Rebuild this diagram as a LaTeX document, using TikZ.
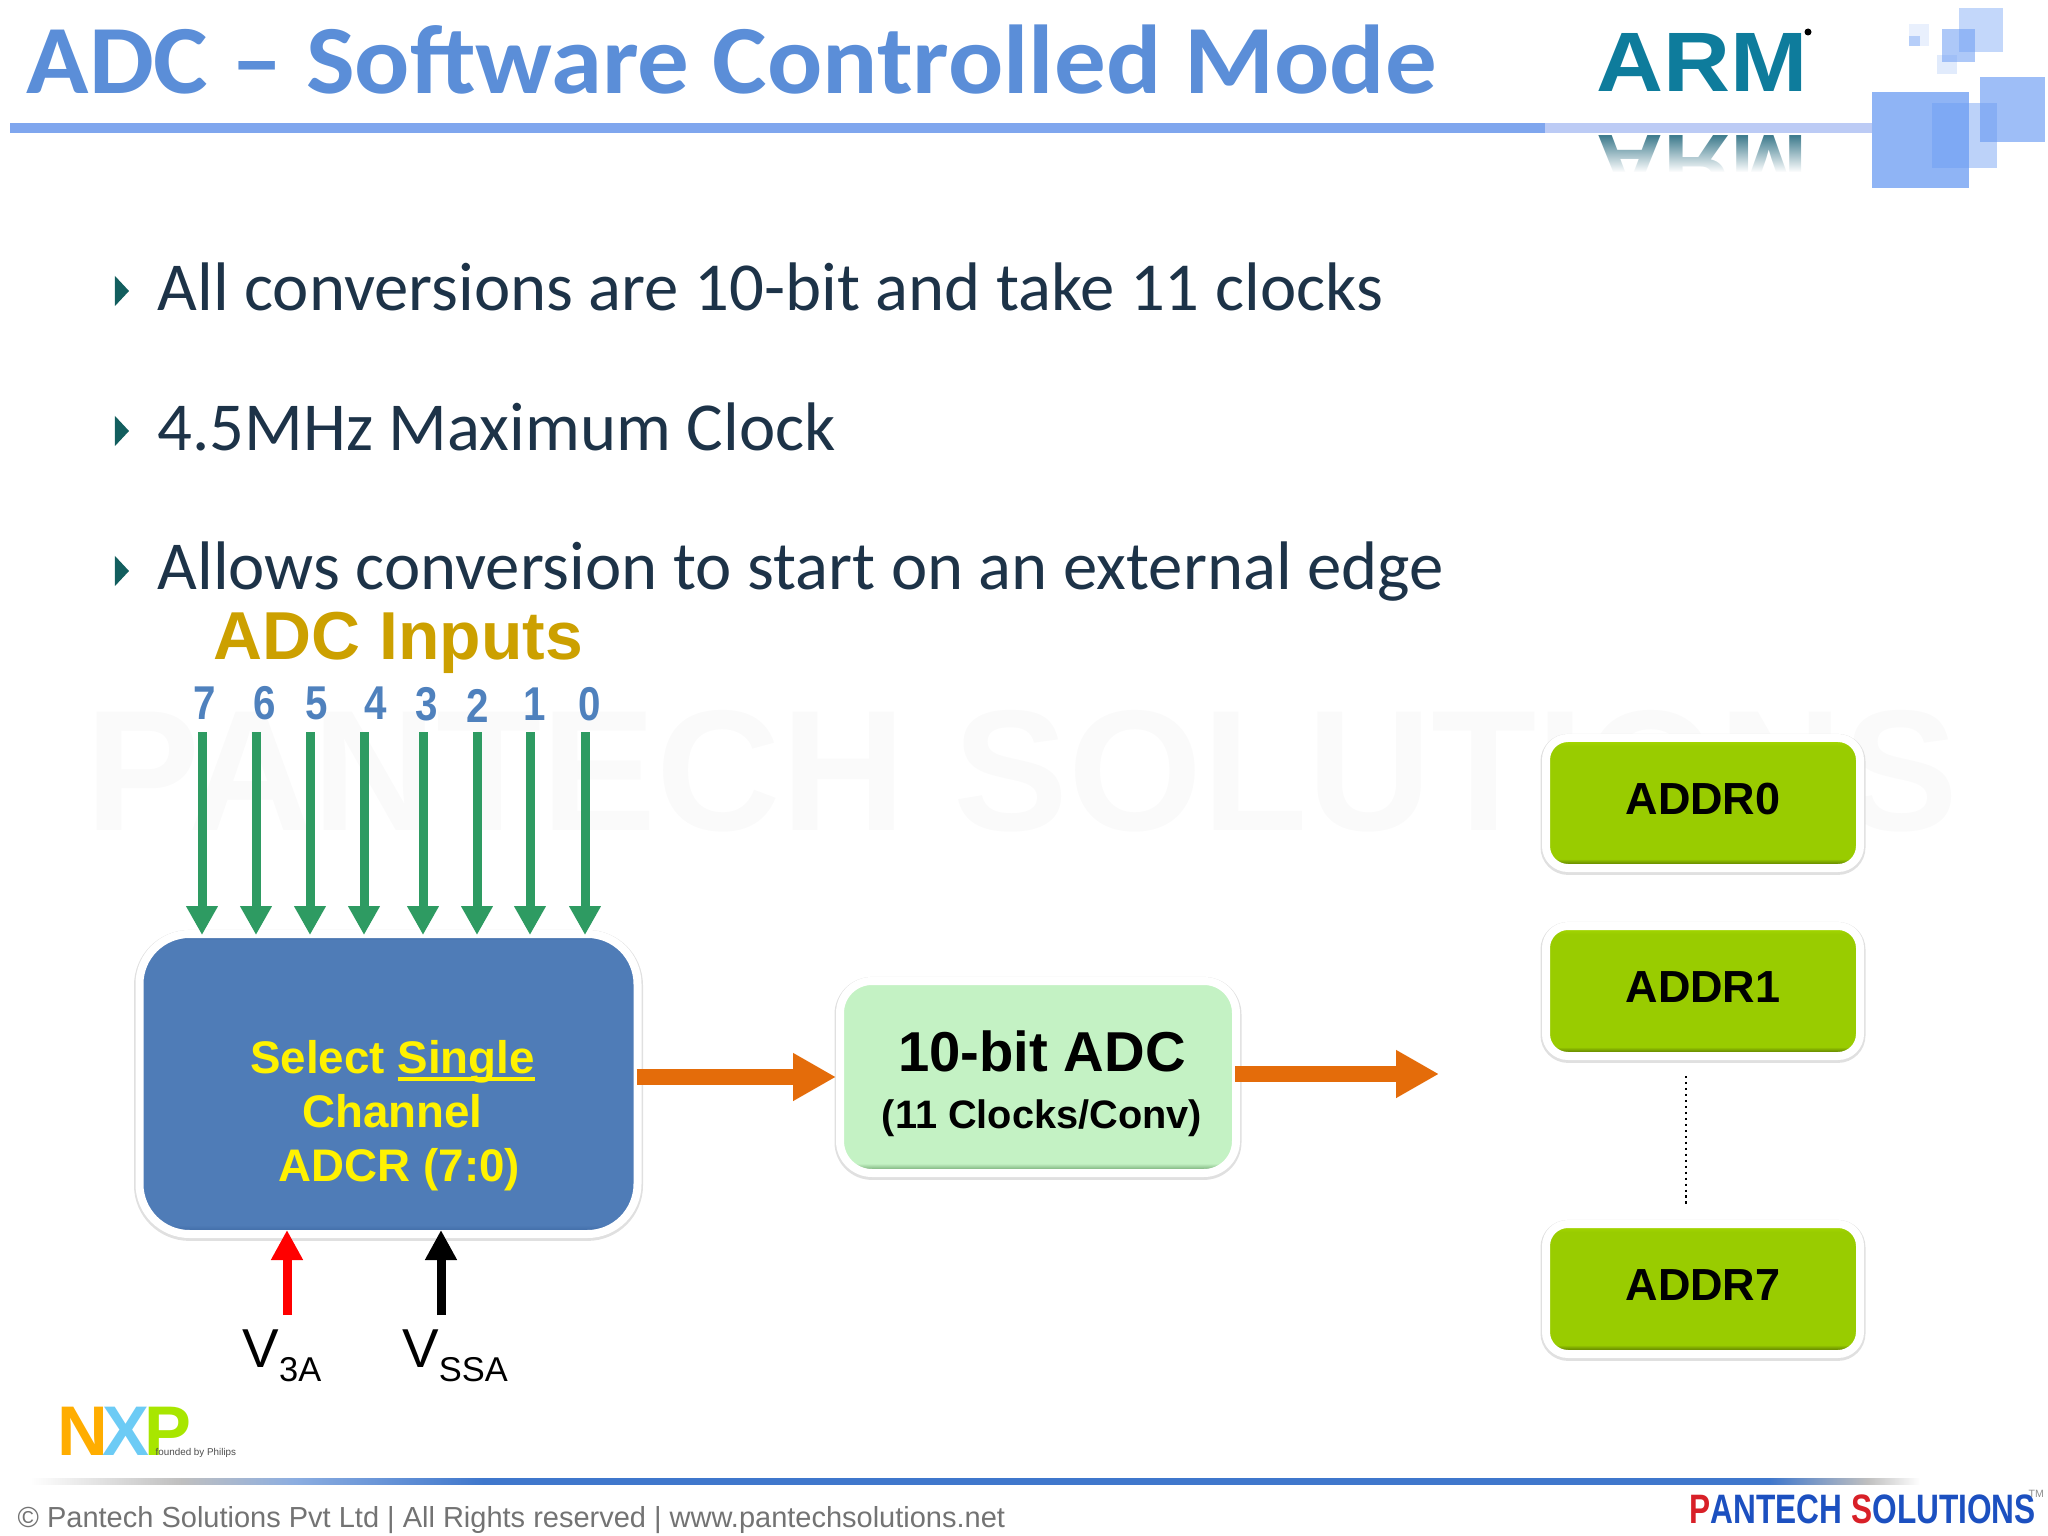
\documentclass[tikz,border=0pt]{standalone}
\usepackage{fontspec}
\setmainfont{Liberation Sans}
\newfontfamily\slidefont{Carlito}
\usetikzlibrary{arrows.meta,fadings}
\definecolor{titleblue}{HTML}{5B8ED8}
\definecolor{rulelight}{HTML}{BCCBF5}
\definecolor{ruleblue}{HTML}{7FA6EE}
\definecolor{footblue}{HTML}{3F77CC}
\definecolor{squareblue}{HTML}{6A9BF2}
\definecolor{armteal}{HTML}{0E7C9C}
\definecolor{bodyink}{HTML}{1D3348}
\definecolor{bullink}{HTML}{125E5E}
\definecolor{inputgold}{HTML}{CCA000}
\definecolor{numblue}{HTML}{4F81BD}
\definecolor{ingreen}{HTML}{2E9B62}
\definecolor{selblue}{HTML}{4F7CB7}
\definecolor{seldark}{HTML}{3A659F}
\definecolor{flowor}{HTML}{E46C0A}
\definecolor{adcmid}{HTML}{C4F2C4}
\definecolor{adcdark}{HTML}{7FB57F}
\definecolor{addrmid}{HTML}{99CC00}
\definecolor{addrtop}{HTML}{AADD00}
\definecolor{addrdark}{HTML}{6F9400}
\definecolor{nxporange}{HTML}{FFAD00}
\definecolor{nxpblue}{HTML}{6CCBF5}
\definecolor{nxpgreen}{HTML}{A8E600}
\definecolor{logored}{HTML}{D82028}
\definecolor{logoblue}{HTML}{1C50C0}
\pgfdeclareverticalshading{addrshade}{100bp}{color(0bp)=(addrdark); color(25bp)=(addrdark); color(27bp)=(addrdark); color(28.5bp)=(addrmid); color(72bp)=(addrmid); color(75bp)=(addrtop); color(100bp)=(addrtop)}
\pgfdeclareverticalshading{adcshade}{100bp}{color(0bp)=(adcdark); color(25bp)=(adcdark); color(26bp)=(adcdark); color(27.5bp)=(adcmid); color(100bp)=(adcmid)}
\pgfdeclareverticalshading{selshade}{100bp}{color(0bp)=(seldark); color(25bp)=(seldark); color(26.5bp)=(selblue); color(74bp)=(selblue); color(75bp)=(seldark); color(100bp)=(seldark)}
\pgfdeclarehorizontalshading{footshade}{100bp}{color(0bp)=(white); color(25bp)=(white); color(29bp)=(black!25); color(32bp)=(footblue!60); color(37bp)=(footblue); color(71bp)=(footblue); color(73.6bp)=(black!25); color(75bp)=(white); color(100bp)=(white)}
\tikzset{
  card/.style={draw=white, line width=0.08cm, preaction={draw=black!12, line width=0.11cm, transform canvas={yshift=-0.4pt}}},
  selbox/.style={card, shading=selshade, rounded corners=0.5cm, minimum width=4.98cm, minimum height=3.00cm, align=center, text=yellow, font=\bfseries\fontsize{13}{15.4}\selectfont},
  adcbox/.style={card, shading=adcshade, rounded corners=0.32cm, minimum width=3.96cm, minimum height=1.92cm, align=center},
  addrbox/.style={card, shading=addrshade, rounded corners=0.22cm, minimum width=3.14cm, minimum height=1.30cm, text depth=0.08cm, font=\bfseries\fontsize{12.8}{15}\selectfont},
  bullettext/.style={anchor=base west, inner sep=0pt, text=bodyink, font=\slidefont\fontsize{19.55}{24}\selectfont},
  inputnum/.style={inner sep=0pt, xscale=0.85, text=numblue, font=\bfseries\fontsize{13.5}{16}\selectfont},
  bulletmark/.style={fill=bullink},
  inflow/.style={-{Triangle[length=2.9mm,width=3.0mm]}, ingreen, line width=0.09cm, shorten >=-0.05cm},
  railflow/.style={-{Triangle[length=3.0mm,width=3.0mm]}, line width=0.09cm, shorten >=-0.08cm},
  outflow/.style={-{Triangle[length=4.3mm,width=4.5mm]}, flowor, line width=0.16cm, shorten <=-0.05cm},
  railname/.style={inner sep=0pt, font=\fontsize{15.6}{18}\selectfont},
  square/.style={fill=squareblue, fill opacity=#1},
}
\newcommand{\railsub}[1]{\raisebox{-0.25em}{\fontsize{9.8}{12}\selectfont #1}}
\newsavebox{\linedbox}
\newcommand{\lined}[1]{\sbox{\linedbox}{#1}\rlap{\rule[-2.2pt]{\wd\linedbox}{1.1pt}}\usebox{\linedbox}}

\begin{document}
\begin{tikzpicture}[x=1cm,y=-1cm]
    \useasboundingbox (0,0) rectangle (20.48,15.36);
    % header
    \node[anchor=base west, inner sep=0pt, yscale=0.95, text=titleblue, font=\slidefont\bfseries\fontsize{29.3}{35}\selectfont] (title) at (0.26,0.94) {ADC – Software Controlled Mode};
    \fill[ruleblue] (0.10,1.23) rectangle (15.45,1.33);
    \fill[rulelight] (15.45,1.23) rectangle (18.72,1.33);
    \node[anchor=base west, inner sep=0pt, xscale=1.1, text=armteal, font=\bfseries\fontsize{24}{30}\selectfont] (arm) at (15.96,0.92) {ARM};
    \fill[black] (18.08,0.32) circle (0.035);
    \begin{scope}
      \clip (15.70,1.36) rectangle (18.20,1.72);
      \node[anchor=base west, inner sep=0pt, xscale=1.1, yscale=-1, text=armteal!55!gray, font=\bfseries\fontsize{24}{30}\selectfont] (armflip) at (15.96,1.36) {ARM};
    \end{scope}
    \fill[white, path fading=north] (15.70,1.36) rectangle (18.20,1.72);
    \fill[square=0.75] (18.72,0.92) rectangle (19.69,1.88);
    \fill[square=0.45] (19.32,1.03) rectangle (19.97,1.68);
    \fill[square=0.65] (19.80,0.77) rectangle (20.45,1.42);
    \fill[square=0.40] (19.59,0.08) rectangle (20.03,0.52);
    \fill[square=0.55] (19.42,0.29) rectangle (19.75,0.62);
    \fill[square=0.20] (19.37,0.55) rectangle (19.57,0.74);
    \fill[square=0.15] (19.09,0.24) rectangle (19.29,0.46);
    \fill[square=0.40] (19.09,0.36) rectangle (19.20,0.46);
    % bullets
    \fill[bulletmark] (1.15,2.76) -- (1.29,2.91) -- (1.15,3.06) -- cycle;
    \fill[bulletmark] (1.15,4.16) -- (1.29,4.31) -- (1.15,4.46) -- cycle;
    \fill[bulletmark] (1.15,5.56) -- (1.29,5.71) -- (1.15,5.86) -- cycle;
    \node[bullettext] (line1) at (1.57,3.11) {All conversions are 10-bit and take 11 clocks};
    \node[bullettext] (line2) at (1.57,4.51) {4.5MHz Maximum Clock};
    \node[bullettext] (line3) at (1.57,5.90) {Allows conversion to start on an external edge};
    % watermark
    \node[inner sep=0pt, text=black!2, font=\bfseries\fontsize{49}{60}\selectfont] (mark) at (10.22,7.71) {PANTECH SOLUTIONS};
    % inputs
    \node[anchor=base west, inner sep=0pt, text=inputgold, font=\bfseries\fontsize{19.3}{24}\selectfont] (inputs) at (2.13,6.60) {ADC Inputs};
    \node[inputnum] (num7) at (2.05,7.03) {7};
    \node[inputnum] (num6) at (2.65,7.03) {6};
    \node[inputnum] (num5) at (3.17,7.03) {5};
    \node[inputnum] (num4) at (3.76,7.03) {4};
    \node[inputnum] (num3) at (4.27,7.04) {3};
    \node[inputnum] (num2) at (4.78,7.06) {2};
    \node[inputnum] (num1) at (5.35,7.04) {1};
    \node[inputnum] (num0) at (5.90,7.04) {0};
    \node[selbox] (sel) at (3.885,10.84) {\mbox{}\\[0.42cm]\hspace*{0.08cm}Select \lined{Single}\\\hspace*{0.08cm}Channel\\\hspace*{0.22cm}ADCR (7:0)};
    \coordinate (in7) at (2.02,7.32);
    \coordinate (in6) at (2.56,7.32);
    \coordinate (in5) at (3.10,7.32);
    \coordinate (in4) at (3.64,7.32);
    \coordinate (in3) at (4.23,7.32);
    \coordinate (in2) at (4.77,7.32);
    \coordinate (in1) at (5.30,7.32);
    \coordinate (in0) at (5.85,7.32);
    \draw[inflow] (in7) -- (in7 |- sel.north);
    \draw[inflow] (in6) -- (in6 |- sel.north);
    \draw[inflow] (in5) -- (in5 |- sel.north);
    \draw[inflow] (in4) -- (in4 |- sel.north);
    \draw[inflow] (in3) -- (in3 |- sel.north);
    \draw[inflow] (in2) -- (in2 |- sel.north);
    \draw[inflow] (in1) -- (in1 |- sel.north);
    \draw[inflow] (in0) -- (in0 |- sel.north);
    % rails
    \coordinate (v3afoot) at (2.87,13.15);
    \coordinate (vssfoot) at (4.41,13.15);
    \draw[railflow, red] (v3afoot) -- (v3afoot |- sel.south);
    \draw[railflow, black] (vssfoot) -- (vssfoot |- sel.south);
    \node[railname] (v3a) at (2.82,13.56) {V\railsub{3A}};
    \node[railname] (vssa) at (4.55,13.56) {V\railsub{SSA}};
    % converter
    \node[adcbox] (adc) at (10.38,10.77) {\hspace*{0.08cm}\rule{0pt}{0.54cm}{\bfseries\fontsize{16}{20}\selectfont 10-bit ADC}\\[0.15cm]\hspace*{0.08cm}{\bfseries\fontsize{11.3}{15}\selectfont (11 Clocks/Conv)}};
    \coordinate (adcout) at (14.39,10.74);
    \draw[outflow] (sel.east |- adc.west) -- (adc.west);
    \draw[outflow] (adc.east |- adcout) -- (adcout);
    % results
    \node[addrbox] (addr0) at (17.03,8.03) {ADDR0};
    \node[addrbox] (addr1) at (17.03,9.91) {ADDR1};
    \node[addrbox] (addr7) at (17.03,12.89) {ADDR7};
    \draw[densely dotted, line width=0.7pt, shorten <=0.16cm, shorten >=0.13cm] ([xshift=-0.17cm]addr1.south) -- ([xshift=-0.17cm]addr7.north);
    % footer
    \node[anchor=base west, inner sep=0pt, font=\bfseries\fontsize{20}{24}\selectfont] (nxp) at (0.57,14.55) {\textcolor{nxporange}{N}\kern-0.08em\textcolor{nxpblue}{X}\kern-0.08em\textcolor{nxpgreen}{P}};
    \node[anchor=base west, inner sep=0pt, text=black!70, font=\fontsize{2.8}{4}\selectfont] (philips) at (1.55,14.55) {founded by Philips};
    \fill[shading=footshade] (0.30,14.78) rectangle (19.20,14.84);
    \node[anchor=base west, inner sep=0pt, text=black!55, font=\fontsize{8.25}{10}\selectfont] (foot) at (0.17,15.27) {\copyright{} Pantech Solutions Pvt Ltd | All Rights reserved | www.pantechsolutions.net};
    \node[anchor=base west, inner sep=0pt, yscale=1.3, font=\bfseries\fontsize{9}{11}\selectfont] (logo) at (16.89,15.23) {\textcolor{logored}{P}\textcolor{logoblue}{ANTECH} \textcolor{logored}{S}\textcolor{logoblue}{OLUTIONS}};
    \node[anchor=base west, inner sep=0pt, text=black!45, font=\fontsize{3}{4}\selectfont] (tm) at (20.28,14.97) {TM};
\end{tikzpicture}
\end{document}
